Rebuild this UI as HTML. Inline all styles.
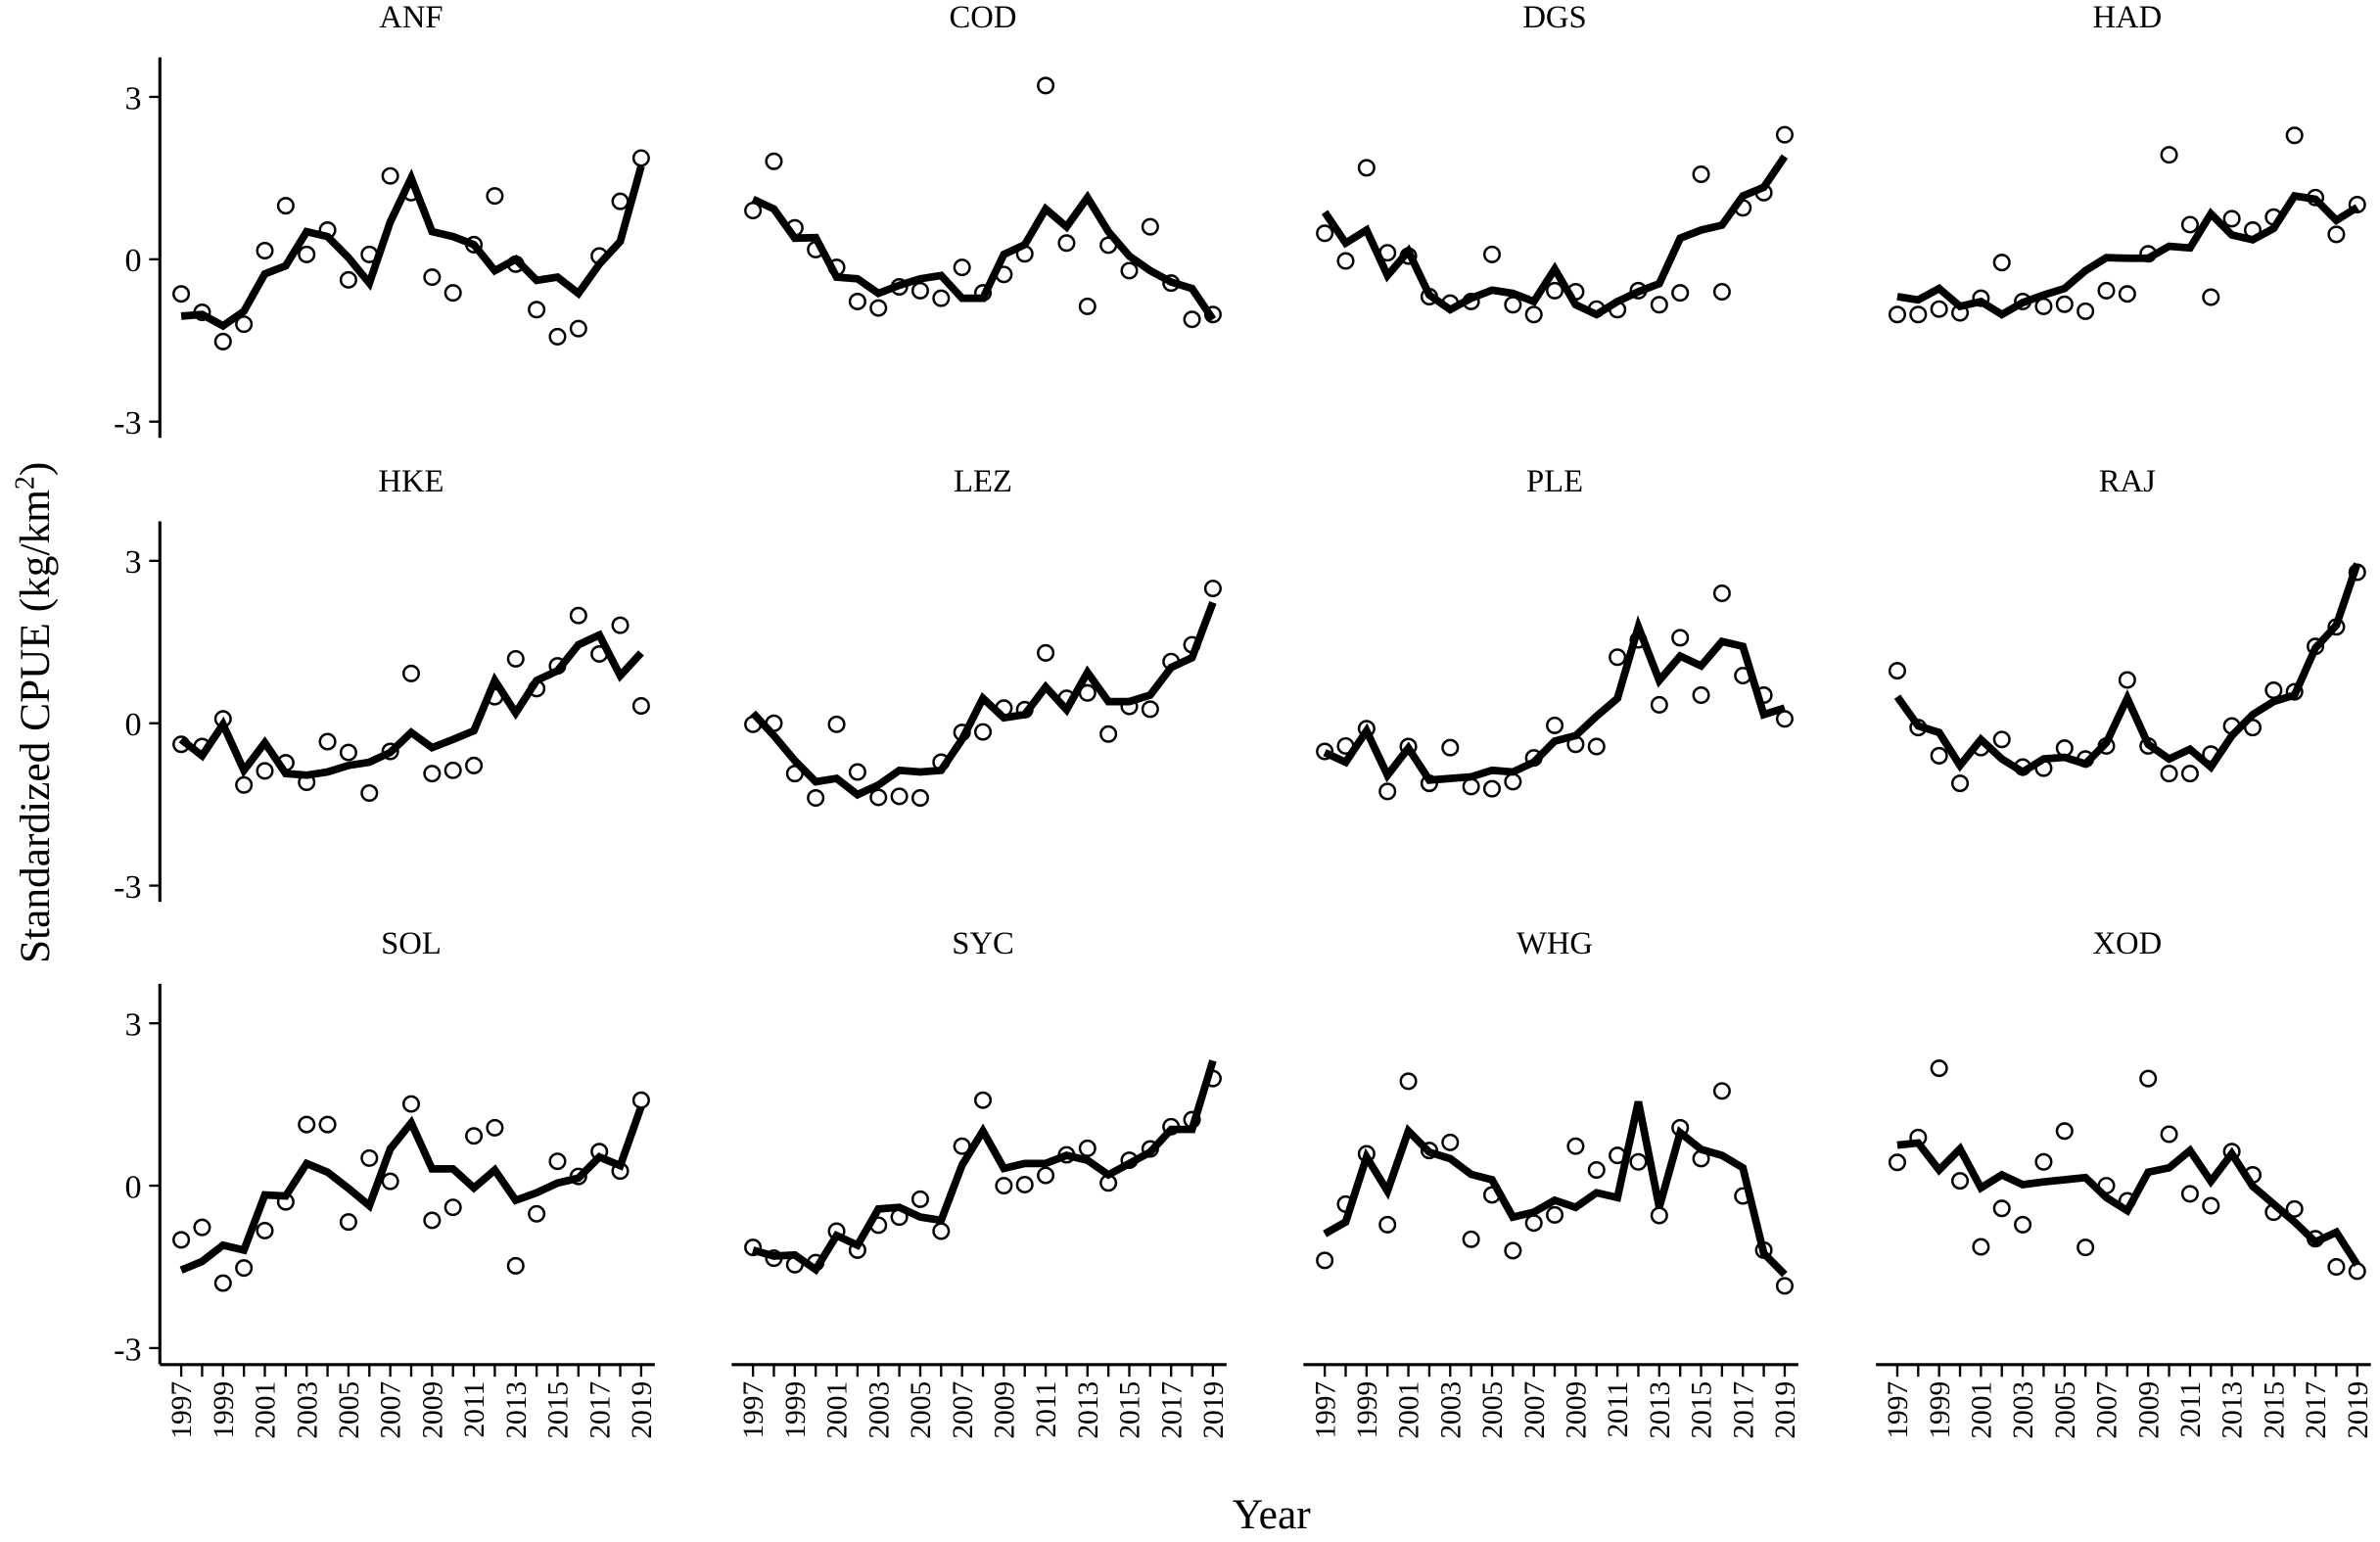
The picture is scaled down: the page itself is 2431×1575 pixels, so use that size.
<!DOCTYPE html>
<html><head><meta charset="utf-8"><style>
html,body{margin:0;padding:0;background:#fff}
svg{display:block}
text{font-family:"Liberation Serif",serif;fill:#000}
</style></head><body>
<svg id="chart" width="2431" height="1575" viewBox="0 0 1563 1017" preserveAspectRatio="none" xmlns="http://www.w3.org/2000/svg">
<text transform="translate(32,470) rotate(-90)" text-anchor="middle" font-size="28" font-family="Liberation Serif, serif">Standardized CPUE  (kg/km<tspan baseline-shift="super" font-size="18">2</tspan>)</text>
<text x="835" y="1008" text-anchor="middle" font-size="28" font-family="Liberation Serif, serif">Year</text>
</svg>
<script>
const years = [1997,1998,1999,2000,2001,2002,2003,2004,2005,2006,2007,2008,2009,2010,2011,2012,2013,2014,2015,2016,2017,2018,2019];
const species = ["ANF","COD","DGS","HAD","HKE","LEZ","PLE","RAJ","SOL","SYC","WHG","XOD"];
const yTicks = [3,0,-3];
const yTickLabels = ["3","0","-3"];
const xTickLabels = ["1997","1999","2001","2003","2005","2007","2009","2011","2013","2015","2017","2019"];

const obsANF = [-0.64,-0.98,-1.52,-1.2,0.16,0.99,0.09,0.54,-0.38,0.09,1.54,1.23,-0.33,-0.62,0.27,1.17,-0.09,-0.93,-1.43,-1.28,0.06,1.07,1.87];
const fitANF = [-1.05,-1.02,-1.23,-0.96,-0.27,-0.12,0.51,0.42,0.03,-0.44,0.69,1.5,0.51,0.42,0.27,-0.21,0,-0.39,-0.33,-0.63,-0.09,0.33,1.72];
const obsCOD = [0.9,1.81,0.58,0.18,-0.15,-0.78,-0.9,-0.51,-0.58,-0.72,-0.15,-0.62,-0.28,0.1,3.21,0.3,-0.87,0.26,-0.21,0.6,-0.44,-1.11,-1.02];
const fitCOD = [1.11,0.93,0.39,0.4,-0.33,-0.36,-0.63,-0.48,-0.36,-0.3,-0.72,-0.72,0.09,0.27,0.93,0.6,1.14,0.51,0.06,-0.21,-0.42,-0.54,-1.11];
const obsDGS = [0.48,-0.03,1.69,0.12,0.06,-0.69,-0.81,-0.78,0.09,-0.84,-1.02,-0.58,-0.6,-0.92,-0.93,-0.58,-0.84,-0.62,1.57,-0.6,0.95,1.23,2.3];
const fitDGS = [0.87,0.3,0.54,-0.3,0.15,-0.66,-0.93,-0.72,-0.57,-0.63,-0.78,-0.18,-0.84,-1.02,-0.78,-0.6,-0.45,0.39,0.54,0.63,1.17,1.33,1.9];
const obsHAD = [-1.02,-1.02,-0.92,-0.99,-0.72,-0.06,-0.78,-0.87,-0.83,-0.96,-0.58,-0.64,0.1,1.93,0.64,-0.7,0.75,0.54,0.78,2.29,1.14,0.46,1.01];
const fitHAD = [-0.69,-0.75,-0.54,-0.87,-0.78,-1.02,-0.8,-0.66,-0.54,-0.21,0.03,0.02,0.02,0.24,0.21,0.84,0.45,0.36,0.57,1.17,1.11,0.72,0.96];
const obsHKE = [-0.39,-0.43,0.08,-1.14,-0.88,-0.73,-1.09,-0.34,-0.54,-1.29,-0.52,0.92,-0.93,-0.87,-0.78,0.49,1.19,0.64,1.06,1.99,1.28,1.81,0.32];
const fitHKE = [-0.3,-0.6,-0.02,-0.87,-0.36,-0.93,-0.96,-0.9,-0.78,-0.72,-0.54,-0.17,-0.45,-0.3,-0.14,0.79,0.19,0.79,0.97,1.45,1.63,0.88,1.3];
const obsLEZ = [-0.02,0,-0.93,-1.38,-0.02,-0.9,-1.37,-1.35,-1.38,-0.72,-0.17,-0.16,0.28,0.25,1.3,0.46,0.56,-0.2,0.31,0.26,1.14,1.45,2.49];
const fitLEZ = [0.19,-0.23,-0.69,-1.08,-1.02,-1.32,-1.14,-0.87,-0.9,-0.87,-0.3,0.46,0.1,0.16,0.67,0.25,0.94,0.4,0.4,0.52,1.03,1.21,2.23];
const obsPLE = [-0.52,-0.42,-0.1,-1.26,-0.43,-1.11,-0.45,-1.17,-1.21,-1.08,-0.64,-0.04,-0.39,-0.43,1.22,1.54,0.34,1.58,0.52,2.4,0.88,0.52,0.08];
const fitPLE = [-0.54,-0.72,-0.14,-0.96,-0.46,-1.05,-1.02,-0.99,-0.87,-0.9,-0.72,-0.33,-0.23,0.13,0.46,1.78,0.79,1.24,1.06,1.51,1.42,0.16,0.28];
const obsRAJ = [0.97,-0.08,-0.6,-1.11,-0.45,-0.3,-0.81,-0.83,-0.46,-0.66,-0.42,0.8,-0.42,-0.93,-0.93,-0.57,-0.05,-0.08,0.61,0.58,1.42,1.78,2.79];
const fitRAJ = [0.49,-0.05,-0.17,-0.78,-0.3,-0.66,-0.9,-0.66,-0.63,-0.75,-0.36,0.46,-0.39,-0.66,-0.48,-0.81,-0.23,0.16,0.4,0.52,1.39,1.81,2.95];
const obsSOL = [-1.0,-0.77,-1.8,-1.52,-0.83,-0.3,1.13,1.13,-0.67,0.51,0.08,1.51,-0.64,-0.4,0.92,1.07,-1.48,-0.52,0.45,0.17,0.63,0.27,1.58];
const fitSOL = [-1.56,-1.4,-1.1,-1.19,-0.17,-0.19,0.41,0.25,-0.05,-0.37,0.68,1.16,0.31,0.31,-0.04,0.29,-0.27,-0.13,0.05,0.14,0.53,0.37,1.46];
const obsSYC = [-1.14,-1.34,-1.46,-1.42,-0.84,-1.19,-0.73,-0.58,-0.25,-0.84,0.73,1.58,0,0.02,0.19,0.57,0.69,0.05,0.47,0.68,1.09,1.22,1.98];
const fitSYC = [-1.19,-1.3,-1.28,-1.55,-0.92,-1.1,-0.43,-0.4,-0.58,-0.64,0.38,1.01,0.32,0.41,0.41,0.56,0.47,0.2,0.41,0.62,1.04,1.04,2.31];
const obsWHG = [-1.38,-0.34,0.59,-0.72,1.93,0.65,0.8,-0.99,-0.17,-1.2,-0.69,-0.54,0.73,0.29,0.56,0.44,-0.55,1.07,0.5,1.75,-0.19,-1.19,-1.85];
const fitWHG = [-0.89,-0.67,0.53,-0.1,1.01,0.62,0.5,0.21,0.11,-0.58,-0.49,-0.27,-0.4,-0.13,-0.22,1.55,-0.4,0.98,0.67,0.56,0.33,-1.25,-1.64];
const obsXOD = [0.43,0.89,2.17,0.09,-1.13,-0.42,-0.72,0.44,1.01,-1.14,0,-0.28,1.98,0.95,-0.15,-0.37,0.63,0.2,-0.49,-0.43,-0.98,-1.5,-1.58];
const fitXOD = [0.75,0.79,0.29,0.68,-0.04,0.2,0.02,0.07,0.11,0.15,-0.22,-0.46,0.25,0.33,0.65,0.08,0.59,-0.01,-0.34,-0.67,-1.04,-0.86,-1.46];

const obsAll = [obsANF,obsCOD,obsDGS,obsHAD,obsHKE,obsLEZ,obsPLE,obsRAJ,obsSOL,obsSYC,obsWHG,obsXOD];
const fitAll = [fitANF,fitCOD,fitDGS,fitHAD,fitHKE,fitLEZ,fitPLE,fitRAJ,fitSOL,fitSYC,fitWHG,fitXOD];

const NS = "http://www.w3.org/2000/svg";
const svg = document.getElementById("chart");
function mk(tag, attrs, parent){
  const e = document.createElementNS(NS, tag);
  for (const k in attrs) e.setAttribute(k, attrs[k]);
  (parent||svg).appendChild(e);
  return e;
}
const colX0 = [119, 494.5, 870, 1246];
const pxPerYear = 13.73;
const rowZero = [171, 477, 782];
const pxPerUnit = 35.7;

species.forEach((sp, i) => {
  const r = Math.floor(i/4), c = i%4;
  const xs = yr => colX0[c] + (yr - years[0]) * pxPerYear;
  const ys = v => rowZero[r] - v * pxPerUnit;
  const g = mk("g", {});
  
  
  const t = mk("text", {x: colX0[c] + 151, y: rowZero[r] - 153, "text-anchor": "middle", "font-size": "21"}, g);
  
  
  t.textContent = sp;

  if (c === 0) {
    const ax = mk("line", {x1: 105, x2: 105, y1: ys(3.73), y2: ys(-3.3), stroke: "#000", "stroke-width": 2}, g);
    
    
    yTicks.forEach((v, k) => {
      const tk = mk("line", {x1: 98, x2: 105, y1: ys(v), y2: ys(v), stroke: "#000", "stroke-width": 1.5}, g);
      
      
      const tl = mk("text", {x: 93, y: ys(v) + 8, "text-anchor": "end", "font-size": "22"}, g);
      
      
      tl.textContent = yTickLabels[k];
    });
  }
  if (r === 2) {
    const xa = mk("line", {x1: colX0[c] - 14, x2: colX0[c] + 311, y1: 900, y2: 900, stroke: "#000", "stroke-width": 2}, g);
    
    
    years.forEach(yr => {
      const tk = mk("line", {x1: xs(yr), x2: xs(yr), y1: 900, y2: 908, stroke: "#000", "stroke-width": 1.5}, g);
      
      
    });
    xTickLabels.forEach(lb => {
      const x = xs(+lb);
      const tl = mk("text", {transform: `translate(${x+6.5},911) rotate(-90)`, "text-anchor": "end", "font-size": "19"}, g);
      
      
      tl.textContent = lb;
    });
  }
  const fit = fitAll[i];
  const d = fit.map((v, k) => (k ? "L" : "M") + xs(years[k]).toFixed(2) + "," + ys(v).toFixed(2)).join(" ");
  const p = mk("path", {d: d, fill: "none", stroke: "#000", "stroke-width": 5, "stroke-linejoin": "miter"}, g);
  
  
  obsAll[i].forEach((v, k) => {
    const ci = mk("circle", {cx: xs(years[k]), cy: ys(v), r: 5, fill: "none", stroke: "#000", "stroke-width": 1.6}, g);
    
    
  });
});
</script>
</body></html>
